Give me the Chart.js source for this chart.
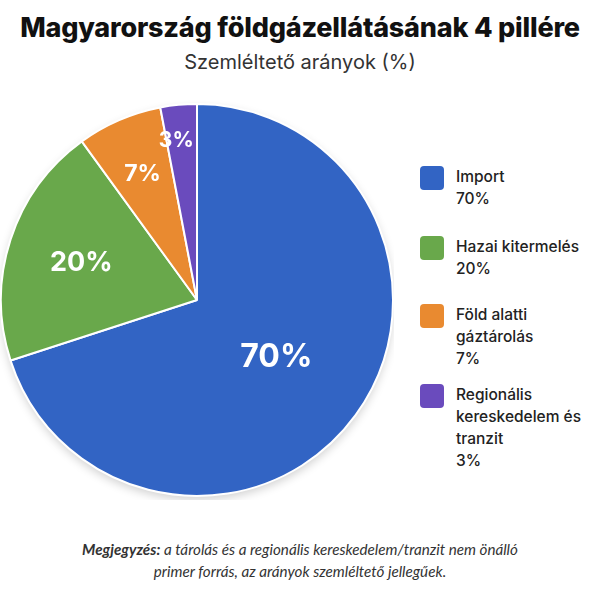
<!DOCTYPE html>
<html lang="hu">
<head>
<meta charset="utf-8">
<script src="https://cdn.jsdelivr.net/npm/chart.js@4/dist/chart.umd.min.js"></script>
<style>
  html, body { margin: 0; padding: 0; background: #fff; }
  body { width: 600px; height: 596px; position: relative; overflow: hidden; font-family: "Inter", "Lato", sans-serif; color: #1a1a1a; }
  #title { position: absolute; top: 11px; left: 0; width: 600px; text-align: center; font-size: 27px; font-weight: 800; letter-spacing: -0.2px; color: #111; white-space: nowrap; }
  #subtitle { position: absolute; top: 50px; left: 0; width: 600px; text-align: center; font-size: 20px; color: #333; }
  #chartBox { position: absolute; left: 0; top: 100px; width: 394px; height: 400px; }
  #legend { position: absolute; left: 420px; top: 166px; width: 175px; }
  .item { position: relative; padding-left: 36px; font-size: 15.5px; line-height: 22px; font-weight: 500; color: #222; }
  .item:nth-child(1) { margin-bottom: 26px; }
  .item:nth-child(2) { margin-bottom: 24px; }
  .item:nth-child(3) { margin-bottom: 14px; }
  .swatch { position: absolute; left: 0; top: 0; width: 24px; height: 24px; border-radius: 4px; }
  #note { position: absolute; top: 538px; left: 0; width: 600px; text-align: center; font-family: "Lato", sans-serif; font-size: 15.2px; line-height: 22px; font-style: italic; color: #333; }
</style>
</head>
<body>
<div id="title">Magyarország földgázellátásának 4 pillére</div>
<div id="subtitle">Szemléltető arányok (%)</div>
<div id="chartBox"><canvas id="pieChart"></canvas></div>
<div id="legend"></div>
<div id="note"><b>Megjegyzés:</b> a tárolás és a regionális kereskedelem/tranzit nem önálló<br>primer forrás, az arányok szemléltető jellegűek.</div>
<script>
let categories = ["Import", "Hazai kitermelés", "Föld alatti gáztárolás", "Regionális kereskedelem és tranzit"];
let legendLines = [["Import"], ["Hazai kitermelés"], ["Föld alatti", "gáztárolás"], ["Regionális", "kereskedelem és", "tranzit"]];
let values = [70, 20, 7, 3];
let colors = ["#3264c4", "#69a84b", "#e98a30", "#6a4bbd"];

// legend built from the same arrays
let legend = document.getElementById("legend");
categories.forEach((c, i) => {
  let item = document.createElement("div");
  item.className = "item";
  item.innerHTML = `<span class="swatch" style="background:${colors[i]}"></span>${legendLines[i].join("<br>")}<br>${values[i]}%`;
  legend.appendChild(item);
});

const shadowPlugin = {
  id: "shadow",
  beforeDatasetsDraw(chart) {
    let arc = chart.getDatasetMeta(0).data[0];
    if (!arc) return;
    let ctx = chart.ctx;
    ctx.save();
    ctx.shadowColor = "rgba(0,0,0,0.18)";
    ctx.shadowBlur = 10;
    ctx.shadowOffsetY = 4;
    ctx.fillStyle = "#fff";
    ctx.beginPath();
    ctx.arc(arc.x, arc.y, arc.outerRadius, 0, Math.PI * 2);
    ctx.fill();
    ctx.restore();
  }
};

// label placement: fraction of radius, font size, small angle nudge (rad)
let labelRadius = [0.5, 0.62, 0.7, 0.82];
let labelSize = [32, 27, 23, 21];
let labelShift = [0, 0, 0, -0.035];

const labelPlugin = {
  id: "sliceLabels",
  afterDatasetsDraw(chart) {
    let ctx = chart.ctx;
    chart.getDatasetMeta(0).data.forEach((arc, i) => {
      let mid = (arc.startAngle + arc.endAngle) / 2 + labelShift[i];
      let r = arc.outerRadius * labelRadius[i];
      let x = arc.x + Math.cos(mid) * r;
      let y = arc.y + Math.sin(mid) * r;
      ctx.save();
      ctx.fillStyle = "#fff";
      ctx.font = "700 " + labelSize[i] + "px Inter, Lato, sans-serif";
      ctx.textAlign = "center";
      ctx.textBaseline = "middle";
      ctx.fillText(values[i] + "%", x, y);
      ctx.restore();
    });
  }
};

new Chart(document.getElementById("pieChart"), {
  type: "pie",
  data: {
    labels: categories,
    datasets: [{ data: values, backgroundColor: colors, borderColor: "#fff", borderWidth: 2 }]
  },
  options: {
    responsive: true,
    maintainAspectRatio: false,
    animation: false,
    layout: { padding: 0 },
    plugins: { legend: { display: false }, tooltip: { enabled: false } }
  },
  plugins: [shadowPlugin, labelPlugin]
});
</script>
</body>
</html>
